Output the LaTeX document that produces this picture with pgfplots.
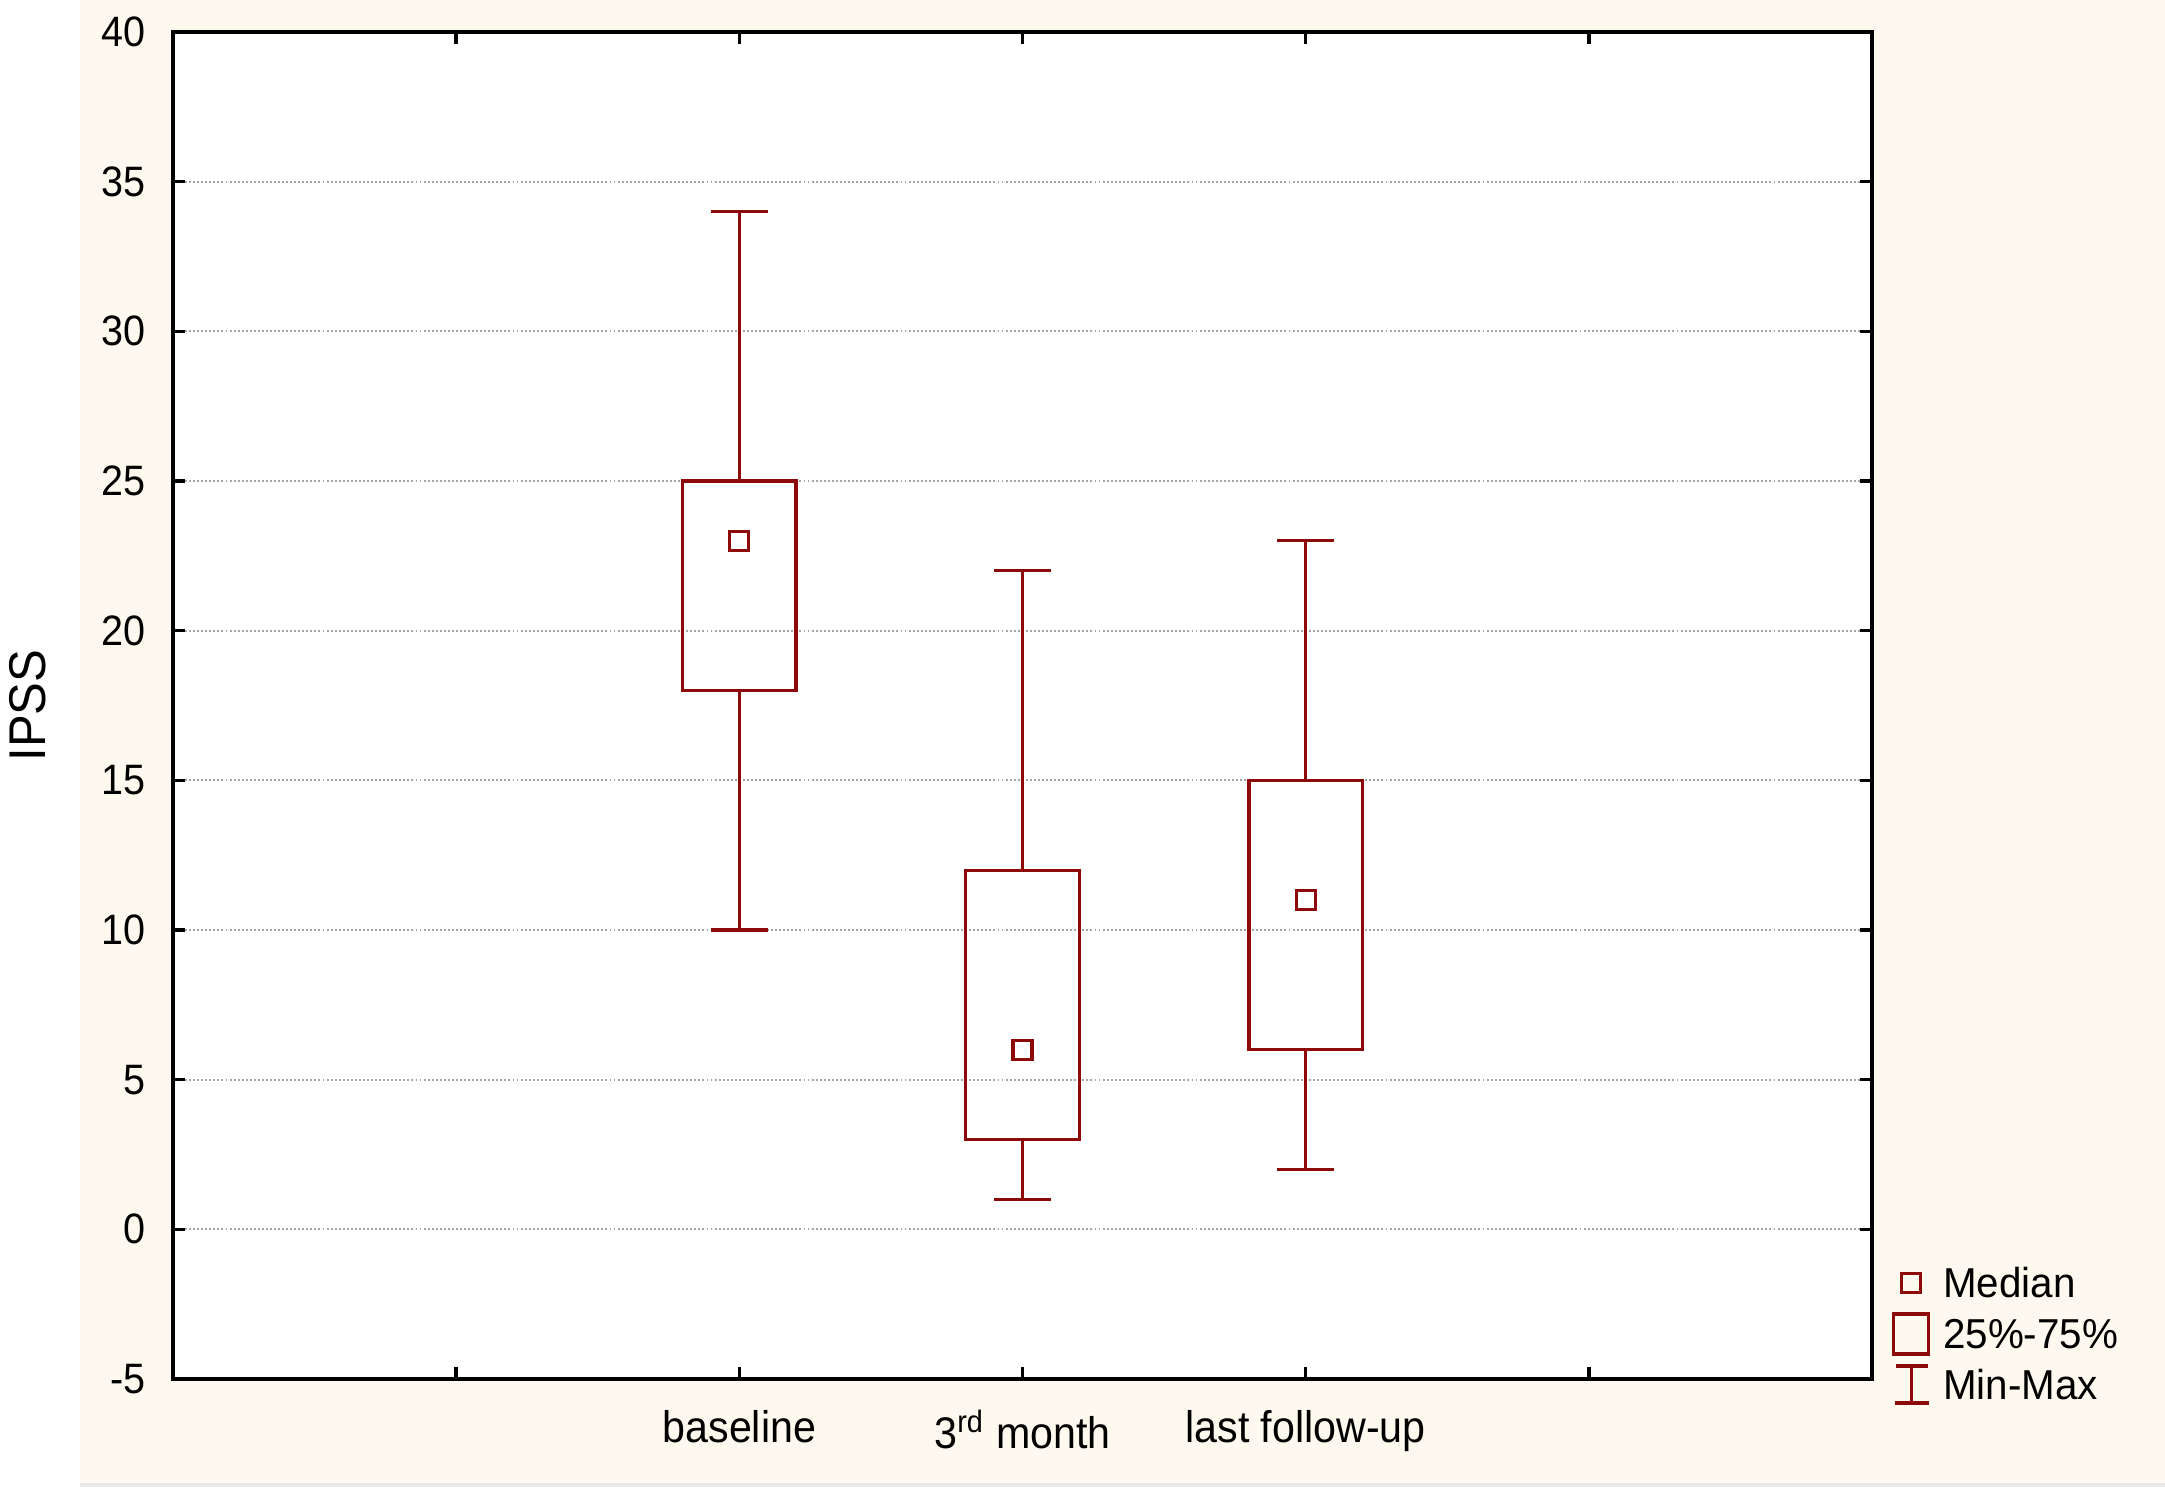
\documentclass[border=0pt]{standalone}
\usepackage{fontspec}
\setmainfont{Liberation Sans}
\newfontfamily\tickfont[FakeStretch=0.93]{Liberation Sans}
\newfontfamily\legfont[FakeStretch=0.965]{Liberation Sans}
\newfontfamily\yfont[FakeStretch=0.95]{Liberation Sans}
\usepackage{pgfplots}
\pgfplotsset{compat=1.18}
\usepgfplotslibrary{statistics}

\definecolor{boxred}{RGB}{140,10,10}
\definecolor{paper}{RGB}{253,249,238}
\definecolor{gridgray}{RGB}{165,165,165}

\begin{document}
\begin{tikzpicture}
% page background (1px = 0.01cm)
\fill[white] (-1.73,-1.13) rectangle (19.92,13.79);
\fill[paper] (-0.93,-1.04) rectangle (19.92,13.79);
\fill[black!9] (-0.93,-1.08) rectangle (19.92,-1.04);

\begin{axis}[
  scale only axis,
  width=16.99cm, height=13.47cm,
  xmin=0, xmax=6, ymin=-5, ymax=40,
  xtick={1,2,3,4,5},
  xticklabels={,baseline,\raisebox{-0.06cm}{3\textsuperscript{rd} month},last follow-up,},
  ytick={-5,0,5,10,15,20,25,30,35,40},
  minor tick num=0,
  tick align=inside,
  major tick length=0.12cm,
  axis line style={black, line width=0.95pt},
  every tick/.style={black, line width=0.95pt},
  ymajorgrids,
  major grid style={gridgray, line width=0.6pt, dash pattern=on 0.55pt off 0.6pt},
  axis background/.style={fill=white},
  /pgf/number format/assume math mode=true,
  yticklabel style={font=\tickfont\fontsize{12.1}{14}\selectfont, anchor=east, inner sep=0pt, xshift=-0.27cm},
  xticklabel style={font=\tickfont\fontsize{12.6}{15}\selectfont, anchor=base, inner sep=0pt, yshift=-0.63cm},
  ylabel={IPSS},
  every axis y label/.style={at={(axis description cs:-0.0748,0.5)}, rotate=90, anchor=base,
    inner sep=0pt, font=\yfont\fontsize{14.7}{17}\selectfont},
  boxplot/draw direction=y,
  boxplot/box extend=0.4,
  boxplot/whisker extend=0.2,
  boxplot/draw/median/.code={%
    \node[draw=boxred, line width=0.9pt, minimum size=0.19cm, inner sep=0pt, outer sep=0pt]
      at (boxplot box cs:\pgfplotsboxplotvalue{median},0.5) {};},
  legend cell align=left,
  legend style={at={(axis description cs:1,0)}, anchor=west, xshift=0.20cm, yshift=0.45cm,
    draw=none, fill=none, inner sep=0pt, outer sep=0pt, row sep=0pt, column sep=0.13cm,
    font=\legfont\fontsize{11.9}{14}\selectfont,
    nodes={inner sep=0pt, text height=0.29cm, text depth=0pt}},
]

\addplot[boxred, line width=0.9pt, forget plot, boxplot prepared={draw position=2,
  lower whisker=10, lower quartile=18, median=23, upper quartile=25, upper whisker=34}]
  coordinates {};
\addplot[boxred, line width=0.9pt, forget plot, boxplot prepared={draw position=3,
  lower whisker=1, lower quartile=3, median=6, upper quartile=12, upper whisker=22}]
  coordinates {};
\addplot[boxred, line width=0.9pt, forget plot, boxplot prepared={draw position=4,
  lower whisker=2, lower quartile=6, median=11, upper quartile=15, upper whisker=23}]
  coordinates {};

\addlegendimage{legend image code/.code={%
  \path[draw=none, fill=none] (0,-0.255cm) rectangle (0.37cm,0.255cm);
  \draw[boxred, line width=0.9pt] (0.085cm,-0.095cm) rectangle (0.275cm,0.095cm);}}
\addlegendentry{Median}
\addlegendimage{legend image code/.code={%
  \path[draw=none, fill=none] (0,-0.255cm) rectangle (0.37cm,0.255cm);
  \draw[boxred, line width=0.9pt] (0.01cm,-0.2cm) rectangle (0.36cm,0.2cm);}}
\addlegendentry{25\%-75\%}
\addlegendimage{legend image code/.code={%
  \path[draw=none, fill=none] (0,-0.255cm) rectangle (0.37cm,0.255cm);
  \draw[boxred, line width=0.9pt] (0.03cm,0.19cm) -- (0.35cm,0.19cm)
    (0.19cm,0.19cm) -- (0.19cm,-0.18cm) (0.02cm,-0.18cm) -- (0.36cm,-0.18cm);}}
\addlegendentry{Min-Max}
\end{axis}

\pgfresetboundingbox
\path[use as bounding box] (-1.73,-1.13) rectangle (19.92,13.79);
\end{tikzpicture}
\end{document}
